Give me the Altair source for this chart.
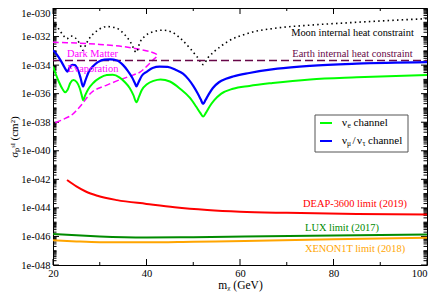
import altair as alt
import pandas as pd

# ---------------- data ----------------
blue_m = [20, 20.8, 21.5, 22.2, 22.7, 23.1, 23.5, 24.1, 24.7, 25.3, 25.9, 26.4, 26.9, 27.6, 28.5,
          29.6, 31.0, 32.3, 33.7, 35.0, 36.0, 36.9, 37.5, 37.85, 38.3, 39.0, 40.1, 41.3, 42.8,
          44.5, 46.3, 47.8, 49.0, 50.0, 50.9, 51.6, 52.1, 52.6, 53.3, 54.2, 55.5, 57.0, 58.5,
          62.0, 68.0, 75.0, 85.0, 100]
blue_s = [1.1e-33, 5.6e-34, 2.5e-34, 1.0e-34, 5.0e-35, 3.5e-35, 6.3e-35, 1.05e-34, 1.0e-34, 5.0e-35,
          1.26e-35, 3.2e-36, 7.9e-36, 3.2e-35, 7.9e-35, 1.6e-34, 2.4e-34, 2.5e-34, 2.1e-34, 1.0e-34,
          4.0e-35, 1.4e-35, 5.6e-36, 3.2e-36, 6.3e-36, 1.8e-35, 3.5e-35, 6.3e-35, 7.9e-35, 7.6e-35,
          4.5e-35, 2.5e-35, 1.0e-35, 3.5e-36, 1.1e-36, 4.0e-37, 1.9e-37, 3.5e-37, 8.9e-37, 2.5e-36,
          6.3e-36, 1.1e-35, 1.6e-35, 2.8e-35, 5.6e-35, 8.9e-35, 1.26e-34, 1.6e-34]

green_m = [20, 20.5, 21.3, 22.0, 22.6, 23.1, 23.7, 24.4, 25.1, 25.7, 26.1, 26.45, 26.9, 27.6, 28.6,
           30.0, 31.5, 32.8, 34.2, 35.4, 36.4, 37.2, 37.85, 38.4, 39.0, 40.1, 41.5, 43.0, 45.0,
           47.2, 49.3, 50.6, 51.5, 52.1, 52.7, 53.5, 54.5, 56.0, 58.5, 62.0, 67.0, 75.0, 85.0, 100]
green_s = [7.9e-35, 2.8e-35, 6.3e-36, 2.2e-36, 1.26e-36, 1.8e-36, 5.6e-36, 8.9e-36, 6.3e-36, 2.5e-36,
           8.9e-37, 3.5e-37, 7.9e-37, 2.2e-36, 5.6e-36, 1.26e-35, 2.0e-35, 2.1e-35, 1.4e-35, 6.3e-36,
           2.5e-36, 7.9e-37, 2.5e-37, 6.3e-37, 1.8e-36, 4.5e-36, 7.9e-36, 1.0e-35, 7.1e-36, 2.2e-36,
           5.0e-37, 1.26e-37, 4.5e-38, 2.5e-38, 4.5e-38, 1.26e-37, 3.5e-37, 1.0e-36, 2.2e-36, 3.5e-36,
           5.6e-36, 1.0e-35, 1.4e-35, 2.0e-35]

moon_m = [20, 20.7, 21.5, 22.3, 23.0, 23.8, 24.8, 25.7, 26.4, 27.1, 28.2, 29.6, 31.5, 33.5, 35.3,
          36.7, 37.8, 38.6, 39.7, 41.5, 43.5, 45.5, 47.5, 49.5, 51.0, 52.1, 53.2, 54.5, 57.4, 62.0,
          68.0, 75.0, 85.0, 100]
moon_s = [1.4e-31, 6.3e-32, 2.5e-32, 1.1e-32, 7.1e-33, 1.1e-32, 7.9e-33, 3.2e-33, 1.1e-33, 3.2e-33,
          1.1e-32, 2.8e-32, 5.0e-32, 4.0e-32, 1.4e-32, 3.5e-33, 7.9e-34, 4.0e-33, 1.1e-32, 2.2e-32,
          2.8e-32, 2.0e-32, 6.3e-33, 1.26e-33, 3.2e-34, 1.1e-34, 3.5e-34, 8.9e-34, 4.5e-33, 1.8e-32,
          4.0e-32, 6.3e-32, 1.0e-31, 1.8e-31]

earth_m = [20, 100]
earth_s = [2.1e-34, 2.1e-34]

evap_m = [20, 25, 30, 35, 38.6, 41.0, 42.3, 41.2, 40.0, 38.6, 37.1, 34.5, 31.5, 29.5, 28.3, 27.2,
          26.2, 25.1, 24.0, 22.2, 20]
evap_s = [4.0e-33, 3.5e-33, 2.8e-33, 2.0e-33, 1.26e-33, 8.3e-34, 5.0e-34, 2.0e-34, 7.9e-35, 3.2e-35,
          2.0e-35, 1.0e-35, 4.0e-36, 2.2e-36, 1.26e-36, 5.0e-37, 1.8e-37, 7.1e-38, 3.2e-38, 1.6e-38,
          7.9e-39]

deap_m = [23, 25, 27, 29.5, 33.7, 40, 46, 53, 60, 70, 85, 100]
deap_s = [8.9e-43, 3.2e-43, 1.4e-43, 7.1e-44, 3.5e-44, 1.9e-44, 1.1e-44, 7.1e-45, 5.4e-45, 4.5e-45,
          3.8e-45, 3.5e-45]

lux_m = [20, 25, 30, 40, 50, 61, 80, 100]
lux_s = [1.5e-46, 1.2e-46, 1.0e-46, 8.5e-47, 8.9e-47, 1.0e-46, 1.17e-46, 1.38e-46]

xenon_m = [20, 25, 30, 40, 50, 61, 80, 100]
xenon_s = [5.4e-47, 4.5e-47, 4.0e-47, 3.9e-47, 4.3e-47, 4.8e-47, 6.3e-47, 8.1e-47]

x_major = [20, 40, 60, 80, 100]
x_minor = [30, 50, 70, 90]
y_major = [1e-48, 1e-46, 1e-44, 1e-42, 1e-40, 1e-38, 1e-36, 1e-34, 1e-32, 1e-30]

# ---------------- layout ----------------
W, H = 374, 257
FONT = "Liberation Serif"
y_minor = []
for n in range(-48, -30):
    for k in range(1, 10):
        v = float(f"{k}e{n}")
        if k == 1 and n % 2 == 0:
            continue
        y_minor.append(v)

xs = alt.Scale(domain=[20, 100], nice=False, zero=False)
ys = alt.Scale(type="log", domain=[1e-48, 1e-30], nice=False)

x_axis = alt.Axis(values=x_major, title="mᵪ (GeV)", ticks=False, domain=False, grid=False,
                  labelAlign={"condition": {"test": "datum.value >= 100", "value": "right"},
                              "value": "center"},
                  labelFont=FONT, labelFontSize=10.5, labelPadding=3, labelFlush=False,
                  labelColor="black", titleFont=FONT, titleFontSize=11.5,
                  titleFontWeight="normal", titlePadding=1, titleColor="black")
y_axis = alt.Axis(values=y_major, labelExpr="'1e-0' + round(-log(datum.value)/LN10)",
                  labelBaseline={"condition": {"test": "datum.value > 5e-31", "value": "top"},
                                 "value": "middle"},
                  title="σₚˢᴵ (cm²)", ticks=False, domain=False, grid=False,
                  labelFont=FONT, labelFontSize=10.5, labelPadding=3, labelColor="black",
                  labelFlush=False, titleFont=FONT, titleFontSize=11,
                  titleFontWeight="normal", titlePadding=1, titleColor="black")


def X(field="m"):
    return alt.X(f"{field}:Q", scale=xs, axis=x_axis)


def Y(field="s"):
    return alt.Y(f"{field}:Q", scale=ys, axis=y_axis)


def curve(m, s, color, width=2.0, dash=None, interp="monotone", ordered=False):
    df = pd.DataFrame({"m": m, "s": s, "i": list(range(len(m)))})
    kw = dict(color=color, strokeWidth=width, interpolate=interp, clip=True)
    if dash:
        kw["strokeDash"] = dash
    enc = dict(x=X(), y=Y())
    if ordered:
        enc["order"] = alt.Order("i:Q")
    return alt.Chart(df).mark_line(**kw).encode(**enc)


layers = []

# ticks (inward, on all four sides)
tx_major = pd.DataFrame({"m": x_major})
tx_minor = pd.DataFrame({"m": x_minor})
ty_major = pd.DataFrame({"s": y_major})
ty_minor = pd.DataFrame({"s": y_minor})
for df, ln in [(tx_major, 6), (tx_minor, 3)]:
    layers.append(alt.Chart(df).mark_rule(color="black", strokeWidth=1).encode(
        x=X(), y=alt.value(H), y2=alt.value(H - ln)))
    layers.append(alt.Chart(df).mark_rule(color="black", strokeWidth=1).encode(
        x=X(), y=alt.value(0), y2=alt.value(ln)))
for df, ln in [(ty_major, 6), (ty_minor, 3.5)]:
    layers.append(alt.Chart(df).mark_rule(color="black", strokeWidth=1).encode(
        y=Y(), x=alt.value(0), x2=alt.value(ln)))
    layers.append(alt.Chart(df).mark_rule(color="black", strokeWidth=1).encode(
        y=Y(), x=alt.value(W), x2=alt.value(W - ln)))

# limit curves
layers.append(curve(deap_m, deap_s, "#ff0000", 2))
layers.append(curve(lux_m, lux_s, "#008b00", 2))
layers.append(curve(xenon_m, xenon_s, "#ffa500", 2))

# constraints
layers.append(curve(evap_m, evap_s, "#ff00ff", 1.5, dash=[6, 3], interp="catmull-rom", ordered=True))
layers.append(curve(moon_m, moon_s, "black", 1.6, dash=[1.5, 3.2]))
layers.append(curve(earth_m, earth_s, "#670748", 1.6, dash=[8, 4], interp="linear"))

# neutrino channels
layers.append(curve(green_m, green_s, "#00ff00", 2))
layers.append(curve(blue_m, blue_s, "#0000ff", 2.2))


def label(text, x, y, color="black", size=10.4, align="center"):
    return alt.Chart(pd.DataFrame({"t": [text]})).mark_text(
        font=FONT, fontSize=size, color=color, align=align, baseline="middle"
    ).encode(x=alt.value(x), y=alt.value(y), text="t:N")


layers += [
    label("Moon internal heat constraint", 299.5, 25),
    label("Earth internal heat constraint", 299.5, 46, "#670748"),
    label("Dark Matter", 39.5, 46, "#ff00ff"),
    label("Evaporation", 40, 61, "#ff00ff"),
    label("DEAP-3600 limit (2019)", 302, 196, "#ff0000"),
    label("LUX limit (2017)", 289, 220, "#008b00"),
    label("XENON1T limit (2018)", 302, 241, "#ffa500"),
]

# legend box
LY = -3
layers.append(alt.Chart(pd.DataFrame({"a": [0]})).mark_rect(
    fill="white", stroke="#555555", strokeWidth=1).encode(
    x=alt.value(262), x2=alt.value(355), y=alt.value(110 + LY), y2=alt.value(147 + LY)))
layers.append(alt.Chart(pd.DataFrame({"a": [0]})).mark_rule(color="#00ff00", strokeWidth=2).encode(
    x=alt.value(267), x2=alt.value(279), y=alt.value(118 + LY)))
layers.append(alt.Chart(pd.DataFrame({"a": [0]})).mark_rule(color="#0000ff", strokeWidth=2).encode(
    x=alt.value(267), x2=alt.value(279), y=alt.value(136 + LY)))
layers += [
    label("ν", 289, 118 + LY, size=11, align="left"),
    label("e", 294.5, 121 + LY, size=7.5, align="left"),
    label("channel", 300.5, 118 + LY, size=11, align="left"),
    label("ν", 289, 136 + LY, size=11, align="left"),
    label("μ", 294, 139 + LY, size=7.5, align="left"),
    label("/", 299.5, 136 + LY, size=11, align="left"),
    label("ν", 304, 136 + LY, size=11, align="left"),
    label("τ", 309.5, 139 + LY, size=7.5, align="left"),
    label("channel", 315, 136 + LY, size=11, align="left"),
]

chart = alt.layer(*layers).properties(
    width=W, height=H,
    autosize=alt.AutoSizeParams(type="none"),
    padding={"left": 45, "top": 0, "right": 1, "bottom": 30},
    background="white",
).configure_view(stroke="black", strokeWidth=1)

chart.save("out.html", embed_options={"renderer": "svg", "actions": False})
